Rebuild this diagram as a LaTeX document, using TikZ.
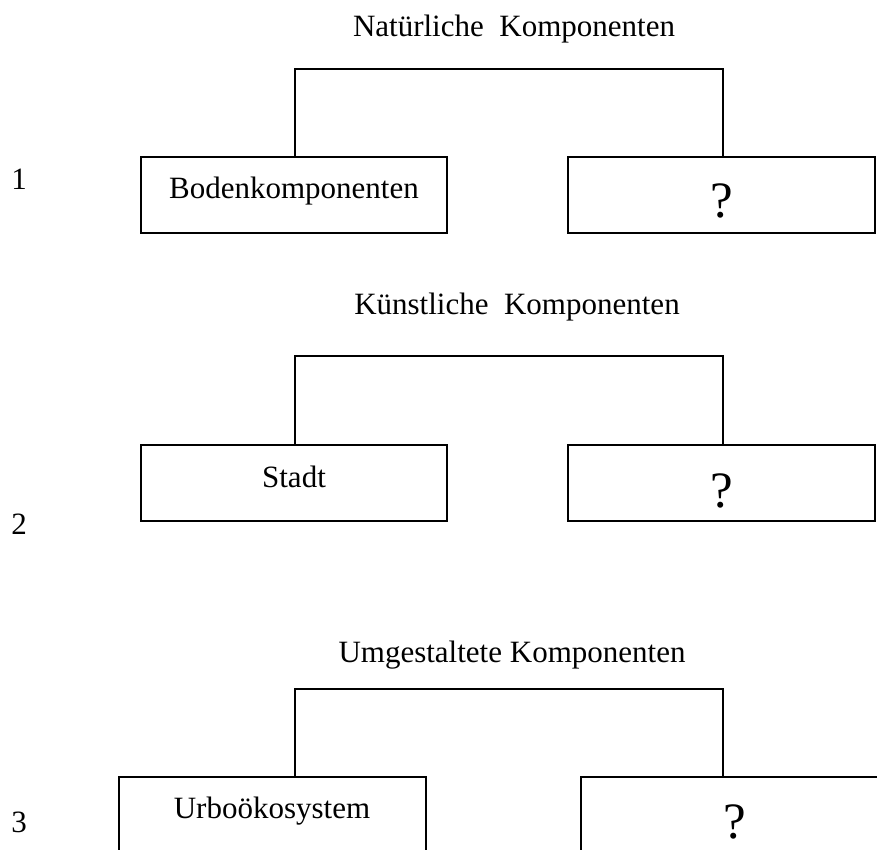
\documentclass[tikz,border=0pt]{standalone}
\usepackage{fontspec}
\setmainfont{Liberation Serif}
\begin{document}
\begin{tikzpicture}[x=1pt,y=-1pt]
\tikzset{
  box/.style={draw, line width=2pt, rectangle, inner sep=0pt},
  txt/.style={font=\fontsize{31}{36}\selectfont, inner sep=0pt, anchor=base},
  qm/.style={font=\fontsize{51}{58}\selectfont, inner sep=0pt, anchor=base},
  conn/.style={line width=1.8pt}
}
\useasboundingbox (0,0) rectangle (877,849);
\clip (0,0) rectangle (877,849);

% numbers
\node[txt] (n1) at (19,189) {1};
\node[txt] (n2) at (19,534) {2};
\node[txt] (n3) at (19,832) {3};

% panel 1
\node[txt] (h1) at (514,36) {Natürliche\ \ Komponenten};
\node[box, minimum width=306pt, minimum height=76pt] (b1) at (294,195) {};
\node[box, minimum width=307pt, minimum height=76pt] (q1) at (721.5,195) {};
\node[txt] (b1t) at (294,198) {Bodenkomponenten};
\node[qm] (q1t) at (722,217) {?};
\coordinate (t1l) at (295,69);
\coordinate (t1r) at (723,69);
\draw[conn] (t1l |- b1.north) -- (t1l) -- (t1r) -- (t1r |- q1.north);

% panel 2
\node[txt] (h2) at (517,314) {Künstliche\ \ Komponenten};
\node[box, minimum width=306pt, minimum height=76pt] (b2) at (294,483) {};
\node[box, minimum width=307pt, minimum height=76pt] (q2) at (721.5,483) {};
\node[txt] (b2t) at (294,487) {Stadt};
\node[qm] (q2t) at (722,507) {?};
\coordinate (t2l) at (295,356);
\coordinate (t2r) at (723,356);
\draw[conn] (t2l |- b2.north) -- (t2l) -- (t2r) -- (t2r |- q2.north);

% panel 3
\node[txt] (h3) at (512,662) {Umgestaltete Komponenten};
\node[box, minimum width=307pt, minimum height=123pt] (b3) at (272.5,838.5) {};
\node[box, minimum width=309pt, minimum height=123pt] (q3) at (735.5,838.5) {};
\node[txt] (b3t) at (272,818) {Urboökosystem};
\node[qm] (q3t) at (735,838) {?};
\coordinate (t3l) at (295,689);
\coordinate (t3r) at (723,689);
\draw[conn] (t3l |- b3.north) -- (t3l) -- (t3r) -- (t3r |- q3.north);
\end{tikzpicture}
\end{document}
